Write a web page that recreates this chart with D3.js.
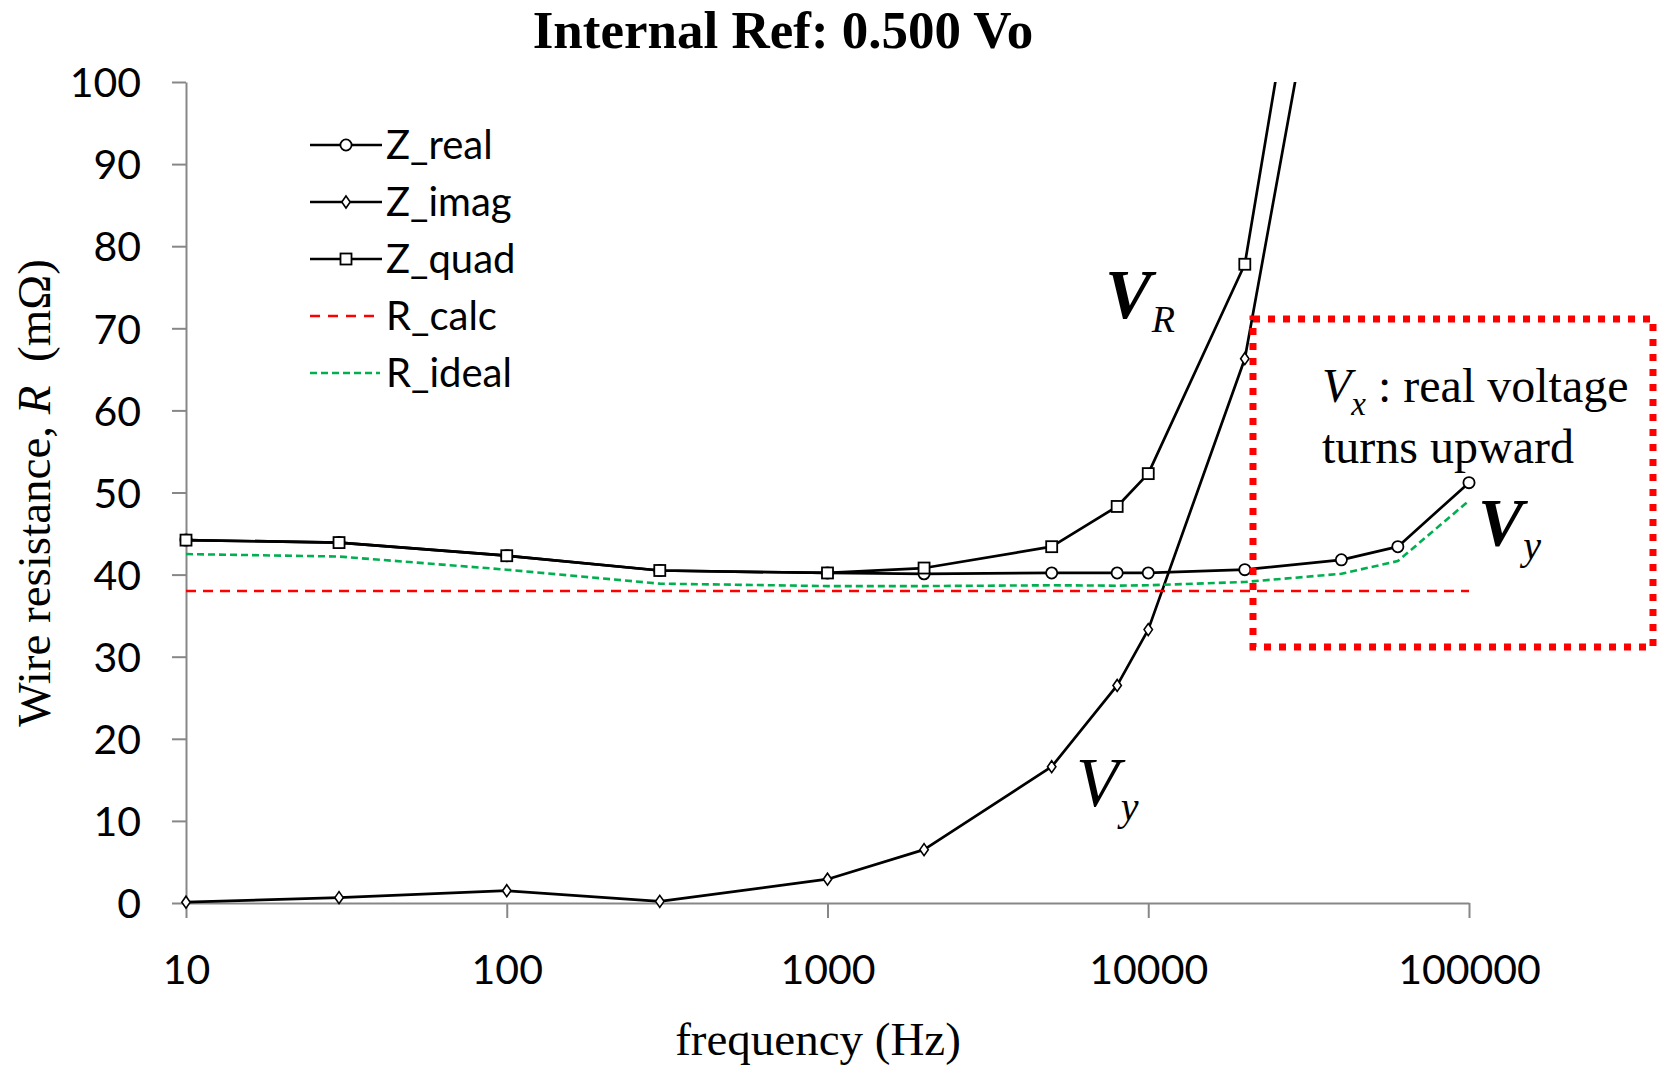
<!DOCTYPE html>
<html>
<head>
<meta charset="utf-8">
<script src="https://cdn.jsdelivr.net/npm/d3@7"></script>
<style>
  html, body { margin: 0; padding: 0; background: #fff; }
  svg { display: block; }
  .serif { font-family: "Liberation Serif", "Times New Roman", serif; }
  .sans { font-family: Lato, "Open Sans", "Noto Sans", sans-serif; }
</style>
</head>
<body>
<svg id="chart" width="1662" height="1067"></svg>
<script>
// Measured frequencies (Hz)
const frequencies = [10, 30, 100, 300, 1000, 2000, 5000, 8000, 10000, 20000, 40000, 60000, 100000];
// Resistance readings (mΩ); null where the value lies far above the plotted range
const zReal  = [44.2, 43.9, 42.3, 40.5, 40.2, 40.1, 40.2, 40.2, 40.2, 40.6, 41.8, 43.4, 51.2];
const zImag  = [0.1, 0.65, 1.5, 0.2, 2.9, 6.5, 16.6, 26.5, 33.3, 66.3, 131, null, null];
const zQuad  = [44.2, 43.9, 42.3, 40.5, 40.2, 40.8, 43.4, 48.3, 52.3, 77.8, 148, null, null];
const rCalc  = [38, 38, 38, 38, 38, 38, 38, 38, 38, 38, 38, 38, 38];
const rIdeal = [42.5, 42.2, 40.6, 38.9, 38.6, 38.6, 38.7, 38.65, 38.7, 39.1, 40.1, 41.65, 49.0];

const xTickValues = [10, 100, 1000, 10000, 100000];
const yTickValues = [0, 10, 20, 30, 40, 50, 60, 70, 80, 90, 100];

const seriesNames = ["Z_real", "Z_imag", "Z_quad", "R_calc", "R_ideal"];

const svg = d3.select("#chart");
const plot = { left: 186, right: 1469, top: 82, bottom: 903 };

const x = d3.scaleLog().domain([10, 100000]).range([plot.left, plot.right]);
const y = d3.scaleLinear().domain([0, 100]).range([plot.bottom, plot.top]);

const axisColor = "#878787";

// Title
svg.append("text")
  .attr("class", "serif")
  .attr("x", 783).attr("y", 48)
  .attr("text-anchor", "middle")
  .attr("font-size", 53).attr("font-weight", "bold")
  .text("Internal Ref: 0.500 Vo");

// Y axis
const yAxis = svg.append("g")
  .attr("transform", `translate(${plot.left},0)`)
  .call(d3.axisLeft(y).tickValues(yTickValues).tickSize(14).tickSizeOuter(0).tickFormat(d3.format("d")));
yAxis.select(".domain").attr("stroke", axisColor).attr("stroke-width", 2);
yAxis.selectAll(".tick line").attr("stroke", axisColor).attr("stroke-width", 2);
yAxis.selectAll(".tick text")
  .attr("class", "sans")
  .attr("font-size", 41).attr("fill", "#000")
  .attr("x", -45).attr("dy", "0.36em");

// X axis
const xAxis = svg.append("g")
  .attr("transform", `translate(0,${plot.bottom})`)
  .call(d3.axisBottom(x).tickValues(xTickValues).tickSize(15).tickSizeOuter(0).tickFormat(d => String(d)));
xAxis.select(".domain").attr("stroke", axisColor).attr("stroke-width", 2);
xAxis.selectAll(".tick line").attr("stroke", axisColor).attr("stroke-width", 2);
xAxis.selectAll(".tick text")
  .attr("class", "sans")
  .attr("font-size", 41).attr("fill", "#000")
  .attr("y", 81).attr("dy", 0);

// Axis titles
svg.append("text")
  .attr("class", "serif")
  .attr("x", 818).attr("y", 1055)
  .attr("text-anchor", "middle")
  .attr("font-size", 47)
  .text("frequency (Hz)");

const yTitle = svg.append("text")
  .attr("class", "serif")
  .attr("transform", "translate(50,493) rotate(-90)")
  .attr("text-anchor", "middle")
  .attr("font-size", 47)
  .style("white-space", "pre");
yTitle.append("tspan").text("Wire resistance, ");
yTitle.append("tspan").attr("font-style", "italic").text("R");
yTitle.append("tspan").text("  (mΩ)");

// Clip to plot area
svg.append("clipPath").attr("id", "plot-clip")
  .append("rect")
  .attr("x", plot.left - 10).attr("y", plot.top)
  .attr("width", plot.right - plot.left + 20).attr("height", plot.bottom - plot.top + 10);

const data = frequencies.map((f, i) => ({
  f, zReal: zReal[i], zImag: zImag[i], zQuad: zQuad[i], rCalc: rCalc[i], rIdeal: rIdeal[i]
}));

const lineFor = key => d3.line()
  .defined(d => d[key] != null)
  .x(d => x(d.f))
  .y(d => y(d[key]));

const g = svg.append("g").attr("clip-path", "url(#plot-clip)");

const styles = {
  zReal:  { stroke: "#000", width: 2.7, dash: null },
  zImag:  { stroke: "#000", width: 2.7, dash: null },
  zQuad:  { stroke: "#000", width: 2.7, dash: null },
  rCalc:  { stroke: "#ff0000", width: 2.4, dash: "10,7" },
  rIdeal: { stroke: "#00b050", width: 2.6, dash: "7,4" }
};

["zReal", "zImag", "zQuad", "rCalc", "rIdeal"].forEach(key => {
  g.append("path")
    .datum(data)
    .attr("fill", "none")
    .attr("stroke", styles[key].stroke)
    .attr("stroke-width", styles[key].width)
    .attr("stroke-dasharray", styles[key].dash)
    .attr("stroke-linejoin", "round")
    .attr("d", lineFor(key));
});

// Marker shapes
function drawMarker(sel, shape) {
  if (shape === "circle") {
    sel.append("ellipse").attr("rx", 5.6).attr("ry", 5.6)
      .attr("fill", "#fff").attr("stroke", "#000").attr("stroke-width", 1.8);
  } else if (shape === "square") {
    sel.append("rect").attr("x", -5.5).attr("y", -5.5).attr("width", 11).attr("height", 11)
      .attr("fill", "#fff").attr("stroke", "#000").attr("stroke-width", 1.8);
  } else if (shape === "diamond") {
    sel.append("path").attr("d", "M0,-6L4.2,0L0,6L-4.2,0Z")
      .attr("fill", "#fff").attr("stroke", "#000").attr("stroke-width", 1.6);
  }
}

const markerSeries = [["zReal", "circle"], ["zImag", "diamond"], ["zQuad", "square"]];
markerSeries.forEach(([key, shape]) => {
  data.filter(d => d[key] != null && d[key] <= 100).forEach(d => {
    const m = g.append("g").attr("transform", `translate(${x(d.f)},${y(d[key])})`);
    drawMarker(m, shape);
  });
});

// Legend
const legendY = [145, 202, 259, 316, 373];
const legendKeys = ["zReal", "zImag", "zQuad", "rCalc", "rIdeal"];
const legendShapes = ["circle", "diamond", "square", null, null];
legendKeys.forEach((key, i) => {
  const row = svg.append("g").attr("transform", `translate(0,${legendY[i]})`);
  row.append("line")
    .attr("x1", 310).attr("x2", styles[key].dash ? 380 : 382)
    .attr("stroke", styles[key].stroke)
    .attr("stroke-width", styles[key].width)
    .attr("stroke-dasharray", key === "rCalc" ? "10,8" : styles[key].dash);
  if (legendShapes[i]) {
    const m = row.append("g").attr("transform", "translate(346,0)");
    drawMarker(m, legendShapes[i]);
  }
  row.append("text")
    .attr("class", "sans")
    .attr("x", 386).attr("y", 0).attr("dy", "0.36em")
    .attr("font-size", 40)
    .text(seriesNames[i]);
});

// Highlight box around the high-frequency region
svg.append("rect")
  .attr("x", 1253).attr("y", 319)
  .attr("width", 400).attr("height", 328)
  .attr("fill", "none")
  .attr("stroke", "#ff0000")
  .attr("stroke-width", 7)
  .attr("stroke-dasharray", "7,8");

// Curve annotations
function label(xp, yp, main, sub, size, subSize, subDx, subDy, bold) {
  const t = svg.append("text").attr("class", "serif")
    .attr("x", xp).attr("y", yp)
    .attr("font-style", "italic");
  t.append("tspan").attr("font-size", size).attr("font-weight", bold ? "bold" : "normal").text(main);
  t.append("tspan").attr("font-size", subSize).attr("dx", subDx).attr("dy", subDy).text(sub);
}
label(1105, 318, "V", "R", 70, 38, 0, 14, true);
label(1478, 545, "V", "y", 68, 40, 0, 14, true);
label(1076, 806, "V", "y", 70, 40, 2, 14, false);

// Note inside the highlight box
const note = svg.append("text").attr("class", "serif").attr("x", 1322).attr("y", 402)
  .attr("font-size", 48).style("white-space", "pre");
note.append("tspan").attr("font-style", "italic").text("V");
note.append("tspan").attr("font-style", "italic").attr("font-size", 33).attr("dy", 13).text("x");
note.append("tspan").attr("dy", -13).text(" : real voltage");
svg.append("text").attr("class", "serif").attr("x", 1322).attr("y", 463)
  .attr("font-size", 48).text("turns upward");
</script>
</body>
</html>
